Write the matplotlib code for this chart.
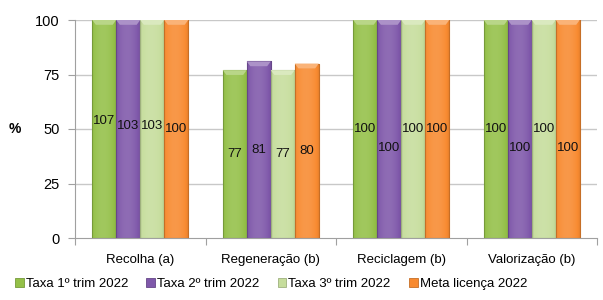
import matplotlib
matplotlib.use("Agg")
import matplotlib.pyplot as plt
import numpy as np
from matplotlib.patches import Patch, Rectangle
from matplotlib.colors import to_rgb

categories = ["Recolha (a)", "Regeneração (b)", "Reciclagem (b)", "Valorização (b)"]
series_names = ["Taxa 1º trim 2022", "Taxa 2º trim 2022", "Taxa 3º trim 2022", "Meta licença 2022"]
taxa1 = [107, 77, 100, 100]
taxa2 = [103, 81, 100, 100]
taxa3 = [103, 77, 100, 100]
meta = [100, 80, 100, 100]
yticks = [0, 25, 50, 75, 100]

series = [taxa1, taxa2, taxa3, meta]
colors = ["#94C048", "#7F58AA", "#C6DD9C", "#F88A30"]
# label shifts (points) where labels were displaced in the original
label_shift = {(2, 1): -14, (3, 1): -14, (3, 3): -14}

plt.rcParams['font.family'] = ['Liberation Sans', 'DejaVu Sans']
fig = plt.figure(figsize=(6.03, 3.0), dpi=100)
ax = fig.add_axes([75/603, 1-238/300, (597-75)/603, (238-20)/300])

ax.set_ylim(0, 100)
ax.set_xlim(-0.5, len(categories) - 0.5)
bw = 0.184
ax.set_yticks(yticks)
ax.tick_params(axis='y', length=5, color='#A0A0A0', labelsize=10.5, pad=6)
for y in yticks[1:]:
    ax.axhline(y, color='#C8C8C8', lw=1, zorder=0)

def shade(c, f):
    r = np.array(to_rgb(c))
    if f < 1:
        return r * f
    return r + (1 - r) * (f - 1)

for j, vals in enumerate(series):
    c = colors[j]
    for i, v in enumerate(vals):
        x0 = i + (j - 1.5) * bw - bw / 2
        top = min(v, 100)
        t = np.linspace(0, 1, 40)
        prof = 1 - 0.55 * (np.abs(t - 0.45) * 2) ** 2
        fac = 0.82 + 0.3 * prof
        img = np.array([[shade(c, f) for f in fac]])
        im = ax.imshow(img, extent=[x0, x0 + bw, 0, top], aspect='auto',
                       interpolation='bilinear', zorder=2)
        rect = Rectangle((x0, 0), bw, top, facecolor='none',
                         edgecolor=shade(c, 0.8), lw=0.8, zorder=3)
        ax.add_patch(rect)
        im.set_clip_path(rect)
        ax.fill([x0, x0 + bw, x0 + bw * 0.85, x0 + bw * 0.15],
                [top, top, top - 2.2, top - 2.2],
                color=shade(c, 1.35), zorder=3, lw=0)
        dy = label_shift.get((i, j), 0)
        ax.annotate(f"{v}", (i + (j - 1.5) * bw, min(v / 2, 100)),
                    xytext=(0, dy), textcoords='offset points',
                    ha='center', va='center', fontsize=9.5, color='#111111',
                    zorder=5)

ax.set_xticks([i + 0.5 for i in range(len(categories) - 1)] + [-0.5, len(categories) - 0.5])
ax.set_xticklabels([])
ax.tick_params(axis='x', length=5, color='#A0A0A0', direction='out')
for i, cat in enumerate(categories):
    ax.text(i, -7.5, cat, ha='center', va='top', fontsize=9.5,
            transform=ax.transData, clip_on=False)

for s in ['top', 'right']:
    ax.spines[s].set_visible(False)
ax.spines['left'].set_color('#A0A0A0')
ax.spines['bottom'].set_color('#A0A0A0')

fig.text(15/603, 1-129/300, "%", fontsize=10, fontweight='bold', ha='center', va='center')

handles = [Patch(facecolor=c, edgecolor=shade(c, 0.8), lw=0.6) for c in colors]
fig.legend(handles, series_names, loc='center', bbox_to_anchor=(271/603, 1-284/300),
           ncol=4, frameon=False, fontsize=9.5, handlelength=0.65, handleheight=0.65,
           handletextpad=0.15, columnspacing=1.4)

fig.savefig("out.png", dpi=100)
